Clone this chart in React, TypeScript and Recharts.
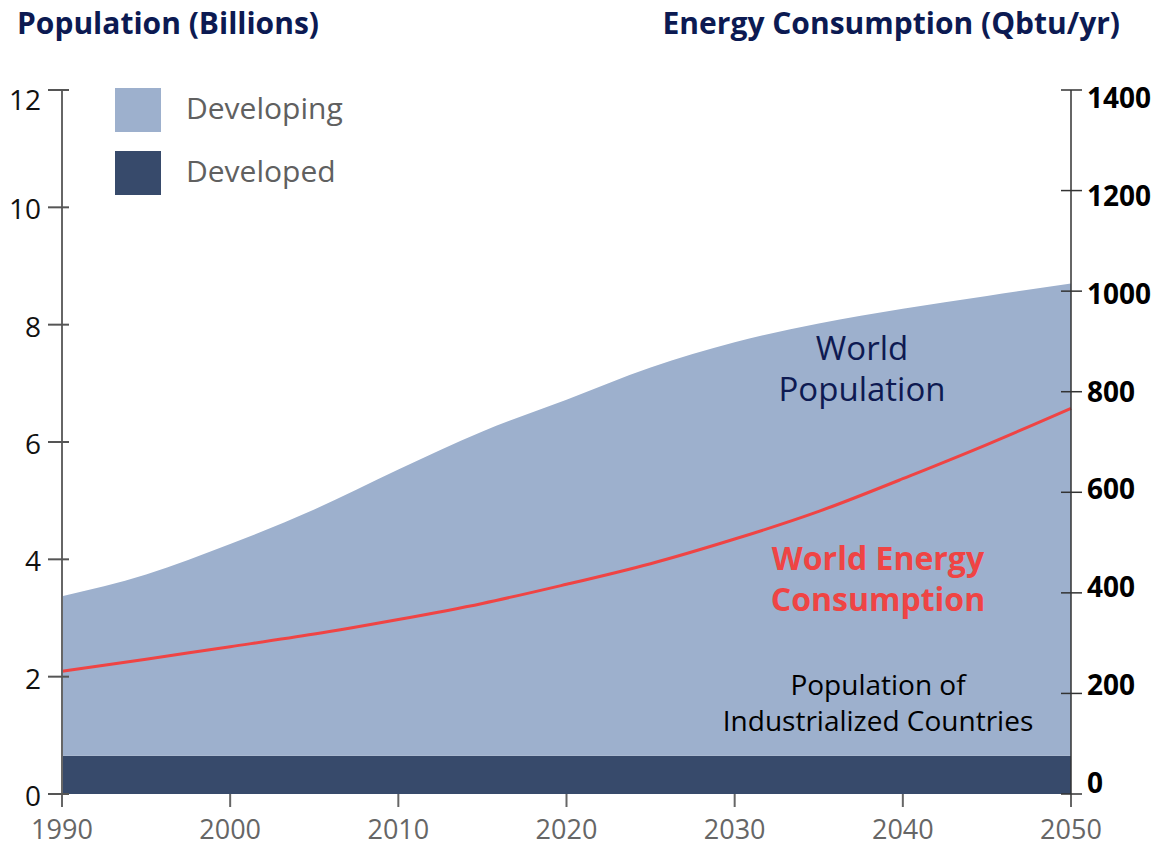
import { ComposedChart, Area, Line, XAxis, YAxis } from "recharts"

const years = [1990, 1995, 2000, 2005, 2010, 2015, 2020, 2025, 2030, 2035, 2040, 2045, 2050]
// billions
const developed = [0.65, 0.65, 0.65, 0.65, 0.65, 0.65, 0.65, 0.65, 0.65, 0.65, 0.65, 0.65, 0.65]
const developing = [2.72, 3.09, 3.61, 4.2, 4.88, 5.53, 6.07, 6.62, 7.05, 7.37, 7.62, 7.84, 8.05]
// Qbtu/yr
const energy = [244, 268, 293, 318, 347, 379, 417, 458, 507, 562, 627, 695, 767]

const yearTicks = [1990, 2000, 2010, 2020, 2030, 2040, 2050]
const popTicks = [0, 2, 4, 6, 8, 10, 12]
const energyTicks = [0, 200, 400, 600, 800, 1000, 1200, 1400]

const legendItems = [
  { label: "Developing", color: "#9db0cd" },
  { label: "Developed", color: "#374a6b" },
]

const rows = years.map((year, i) => ({
  year,
  developed: developed[i],
  developing: developing[i],
  energy: energy[i],
}))

const FONT = "'Open Sans', 'Noto Sans', sans-serif"

function LeftTick({ x, y, payload }: any) {
  // the top label sits under its tick in the original
  const dy = payload.value === 12 ? 9 : 1
  return (
    <g>
      <line x1={x - 14} x2={x + 7} y1={y} y2={y} stroke="#555" strokeWidth={2} />
      <text x={x - 21} y={y + dy} textAnchor="end" dominantBaseline="central" fontSize={28} fill="#111" fontFamily={FONT}>
        {payload.value}
      </text>
    </g>
  )
}

function RightTick({ x, y, payload }: any) {
  // labels sit a bit off the ticks in the original
  const dy = 7 - 19 * (1 - payload.value / 1400)
  return (
    <g>
      <line x1={x - 10} x2={x + 11} y1={y} y2={y} stroke="#333" strokeWidth={1.5} />
      <text x={x + 16} y={y + dy} textAnchor="start" dominantBaseline="central" fontSize={28} fontWeight="bold" fill="#000" fontFamily={FONT}>
        {payload.value}
      </text>
    </g>
  )
}

function BottomTick({ x, y, payload }: any) {
  return (
    <g>
      <line x1={x} x2={x} y1={y} y2={y + 13} stroke="#666" strokeWidth={2} />
      <text x={x} y={y + 45} textAnchor="middle" fontSize={27} fill="#666" fontFamily={FONT}>
        {payload.value}
      </text>
    </g>
  )
}

function LegendBox() {
  return (
    <div style={{ position: "absolute", left: 115, top: 88 }}>
      {legendItems.map((item) => (
        <div key={item.label} style={{ display: "flex", alignItems: "center", height: 44, marginBottom: 19 }}>
          <div style={{ width: 46, height: 44, background: item.color }} />
          <span style={{ marginLeft: 25, marginTop: -6, fontSize: 30, color: "#606060", fontFamily: FONT }}>{item.label}</span>
        </div>
      ))}
    </div>
  )
}

const note = (left: number, top: number, lines: string[], style: any) => (
  <div
    style={{
      position: "absolute",
      left: left - 250,
      top,
      width: 500,
      textAlign: "center",
      fontFamily: FONT,
      ...style,
    }}
  >
    {lines.map((l) => (
      <div key={l}>{l}</div>
    ))}
  </div>
)

export default function App() {
  return (
    <div style={{ position: "absolute", left: 0, top: 0, width: 1166, height: 847, background: "#fff", overflow: "hidden" }}>
      <ComposedChart width={1166} height={847} data={rows} margin={{ top: 90, right: 0, bottom: 12, left: 0 }}>
        <XAxis
          dataKey="year"
          type="number"
          domain={[1990, 2050]}
          ticks={yearTicks}
          axisLine={false}
          tickLine={false}
          tickSize={0}
          tickMargin={0}
          height={41}
          tick={BottomTick}
          interval={0}
        />
        <YAxis
          yAxisId="pop"
          domain={[0, 12]}
          ticks={popTicks}
          width={62}
          axisLine={{ stroke: "#666", strokeWidth: 2 }}
          tickLine={false}
          tickSize={0}
          tickMargin={0}
          tick={LeftTick}
          interval={0}
        />
        <YAxis
          yAxisId="energy"
          orientation="right"
          domain={[0, 1400]}
          ticks={energyTicks}
          width={95}
          axisLine={{ stroke: "#333", strokeWidth: 1.5 }}
          tickLine={false}
          tickSize={0}
          tickMargin={0}
          tick={RightTick}
          interval={0}
        />
        <Area
          yAxisId="pop"
          stackId="pop"
          type="monotone"
          dataKey="developed"
          stroke="none"
          fill="#374a6b"
          fillOpacity={1}
          isAnimationActive={false}
        />
        <Area
          yAxisId="pop"
          stackId="pop"
          type="monotone"
          dataKey="developing"
          stroke="none"
          fill="#9db0cd"
          fillOpacity={1}
          isAnimationActive={false}
        />
        <Line
          yAxisId="energy"
          type="natural"
          dataKey="energy"
          stroke="#ef4444"
          strokeWidth={3}
          dot={false}
          isAnimationActive={false}
        />
      </ComposedChart>

      <LegendBox />

      <div style={{ position: "absolute", left: 17, top: 2, fontFamily: FONT, fontWeight: "bold", fontSize: 30, color: "#0c1a52", whiteSpace: "nowrap" }}>
        Population (Billions)
      </div>
      <div style={{ position: "absolute", right: 46, top: 2, fontFamily: FONT, fontWeight: "bold", fontSize: 30, color: "#0c1a52", whiteSpace: "nowrap" }}>
        Energy Consumption (Qbtu/yr)
      </div>

      {note(862, 327, ["World", "Population"], { fontSize: 33, lineHeight: "41px", color: "#0e1a52", fontWeight: 500 })}
      {note(878, 537, ["World Energy", "Consumption"], { fontSize: 32, lineHeight: "41px", color: "#ef4444", fontWeight: "bold" })}
      {note(878, 666, ["Population of", "Industrialized Countries"], { fontSize: 28, lineHeight: "36px", color: "#000" })}
    </div>
  )
}
